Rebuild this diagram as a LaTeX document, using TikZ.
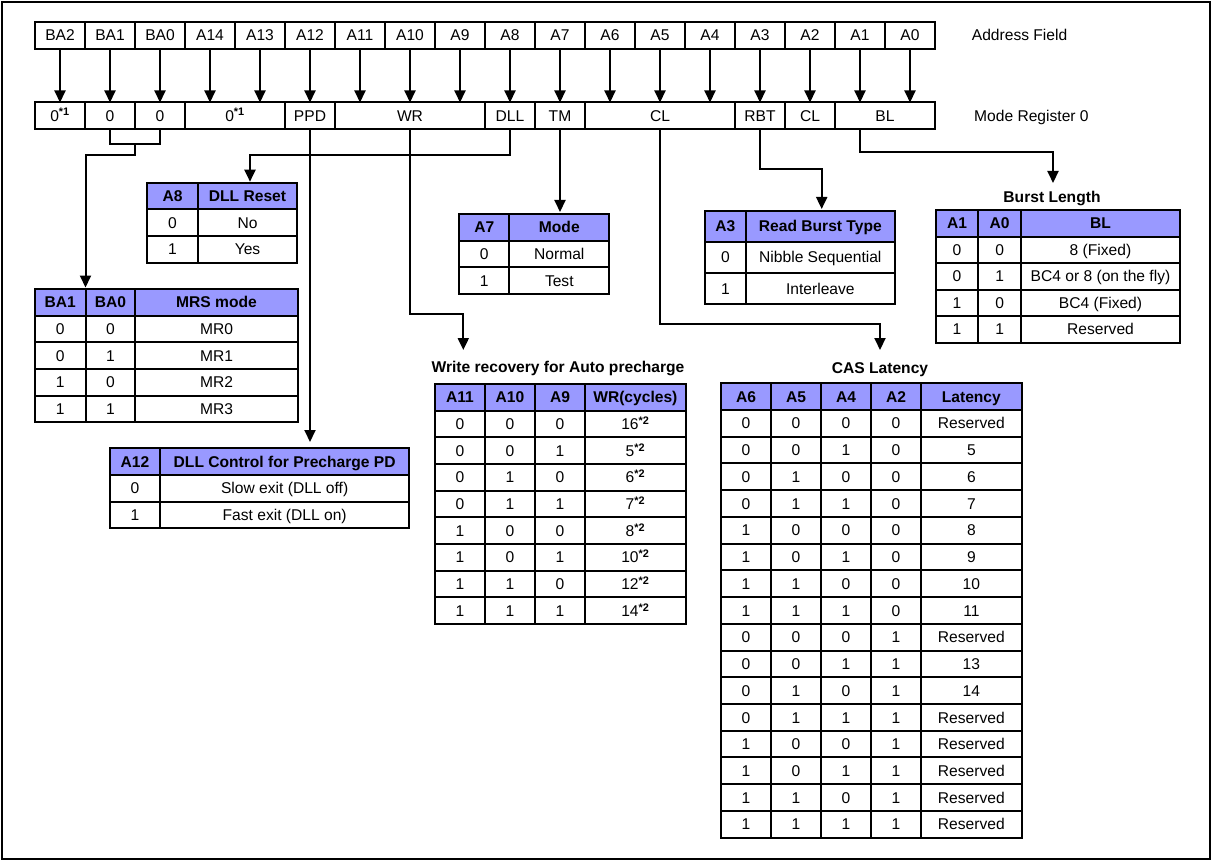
\documentclass[tikz,border=0pt]{standalone}
\usepackage{fontspec}
\setmainfont{Liberation Sans}
\usetikzlibrary{arrows.meta}
\definecolor{hdr}{RGB}{153,153,255}
\tikzset{
  cell/.style={draw=black,line width=2pt,inner sep=0pt,outer sep=0pt,
    font=\fontsize{15.6}{18}\selectfont,text height=11.2pt,text depth=0pt},
  hcell/.style={cell,fill=hdr,font=\fontsize{15.6}{18}\selectfont\bfseries},
  wire/.style={line width=2pt},
  arr/.style={wire,-{Triangle[length=12pt,width=11pt]}},
  lab/.style={inner sep=0pt,font=\fontsize{15.6}{18}\selectfont,text height=11.2pt,text depth=0pt},
  ttl/.style={lab,font=\fontsize{15.6}{18}\selectfont\bfseries}
}
\newcommand\cellbox[7][cell]{%
  \pgfmathsetmacro\cw{(#4)-(#3)}%
  \pgfmathsetmacro\ch{(#6)-(#5)}%
  \node[#1,minimum width=\cw pt,minimum height=\ch pt] (#2) at ({((#3)+(#4))/2},{((#5)+(#6))/2}) {#7};}
\newcommand\stA{\textsuperscript{\textbf{*1}}}
\newcommand\stB{\textsuperscript{\textbf{*2}}}
\begin{document}
\begin{tikzpicture}[x=1pt,y=-1pt]
\useasboundingbox (0,0) rectangle (1212,861);
\draw[line width=2pt] (2,2) rectangle (1210,859);

% Address field
\foreach \t [count=\i from 0] in {BA2,BA1,BA0,A14,A13,A12,A11,A10,A9,A8,A7,A6,A5,A4,A3,A2,A1,A0}{
  \cellbox{a\i}{35+50*\i}{85+50*\i}{22}{48.7}{\t}}
\node[lab,anchor=west] (afl) at (971.7,35.4) {Address Field};

% Mode register 0
\cellbox{m0}{35}{85}{102.5}{128.7}{0\stA}
\cellbox{m1}{85}{135}{102.5}{128.7}{0}
\cellbox{m2}{135}{185}{102.5}{128.7}{0}
\cellbox{m3}{185}{285}{102.5}{128.7}{0\stA}
\cellbox{mPPD}{285}{335}{102.5}{128.7}{PPD}
\cellbox{mWR}{335}{485}{102.5}{128.7}{WR}
\cellbox{mDLL}{485}{535}{102.5}{128.7}{DLL}
\cellbox{mTM}{535}{585}{102.5}{128.7}{TM}
\cellbox{mCLa}{585}{735}{102.5}{128.7}{CL}
\cellbox{mRBT}{735}{785}{102.5}{128.7}{RBT}
\cellbox{mCLb}{785}{835}{102.5}{128.7}{CL}
\cellbox{mBL}{835}{935}{102.5}{128.7}{BL}
\node[lab,anchor=west] (mrl) at (974,115.6) {Mode Register 0};

\foreach \i in {0,...,17}{\draw[arr] (a\i.south) -- (a\i.south |- m0.north);}

% DLL reset table
\cellbox[hcell]{dll-0-1}{147.3}{197.7}{182.7}{209.3}{A8}
\cellbox[hcell]{dll-0-2}{197.7}{297.3}{182.7}{209.3}{DLL Reset}
\foreach \ca/\cb [count=\i] in {0/No,1/Yes}{
  \pgfmathsetmacro\ya{209.3+26.67*(\i-1)}\pgfmathsetmacro\yb{\ya+26.67}
  \cellbox{dll-\i-1}{147.3}{197.7}{\ya}{\yb}{\ca}
  \cellbox{dll-\i-2}{197.7}{297.3}{\ya}{\yb}{\cb}}

% MRS mode table
\cellbox[hcell]{mrs-0-1}{35}{85.5}{289}{315.7}{BA1}
\cellbox[hcell]{mrs-0-2}{85.5}{135.3}{289}{315.7}{BA0}
\cellbox[hcell]{mrs-0-3}{135.3}{297.7}{289}{315.7}{MRS mode}
\foreach \ca/\cb/\cc [count=\i] in {0/0/MR0,0/1/MR1,1/0/MR2,1/1/MR3}{
  \pgfmathsetmacro\ya{315.7+26.67*(\i-1)}\pgfmathsetmacro\yb{\ya+26.67}
  \cellbox{mrs-\i-1}{35}{85.5}{\ya}{\yb}{\ca}
  \cellbox{mrs-\i-2}{85.5}{135.3}{\ya}{\yb}{\cb}
  \cellbox{mrs-\i-3}{135.3}{297.7}{\ya}{\yb}{\cc}}

% DLL control for precharge PD table
\cellbox[hcell]{ppd-0-1}{110}{160}{448.3}{475}{A12}
\cellbox[hcell]{ppd-0-2}{160}{409.3}{448.3}{475}{DLL Control for Precharge PD}
\foreach \ca/\cb [count=\i] in {0/Slow exit (DLL off),1/Fast exit (DLL on)}{
  \pgfmathsetmacro\ya{475+26.67*(\i-1)}\pgfmathsetmacro\yb{\ya+26.67}
  \cellbox{ppd-\i-1}{110}{160}{\ya}{\yb}{\ca}
  \cellbox{ppd-\i-2}{160}{409.3}{\ya}{\yb}{\cb}}

% Test mode table
\cellbox[hcell]{tm-0-1}{459.3}{509.3}{214}{240.7}{A7}
\cellbox[hcell]{tm-0-2}{509.3}{609.3}{214}{240.7}{Mode}
\foreach \ca/\cb [count=\i] in {0/Normal,1/Test}{
  \pgfmathsetmacro\ya{240.7+26.67*(\i-1)}\pgfmathsetmacro\yb{\ya+26.67}
  \cellbox{tm-\i-1}{459.3}{509.3}{\ya}{\yb}{\ca}
  \cellbox{tm-\i-2}{509.3}{609.3}{\ya}{\yb}{\cb}}

% Read burst type table
\cellbox[hcell]{rbt-0-1}{705}{745.7}{211}{241.7}{A3}
\cellbox[hcell]{rbt-0-2}{745.7}{895}{211}{241.7}{Read Burst Type}
\foreach \ca/\cb [count=\i] in {0/Nibble Sequential,1/Interleave}{
  \pgfmathsetmacro\ya{241.7+31.15*(\i-1)}\pgfmathsetmacro\yb{\ya+31.15}
  \cellbox{rbt-\i-1}{705}{745.7}{\ya}{\yb}{\ca}
  \cellbox{rbt-\i-2}{745.7}{895}{\ya}{\yb}{\cb}}

% Burst length table
\node[ttl] (bltitle) at (1052,196.7) {Burst Length};
\cellbox[hcell]{bl-0-1}{935.7}{978.3}{210}{236.5}{A1}
\cellbox[hcell]{bl-0-2}{978.3}{1021}{210}{236.5}{A0}
\cellbox[hcell]{bl-0-3}{1021}{1180}{210}{236.5}{BL}
\foreach \ca/\cb/\cc [count=\i] in {0/0/8 (Fixed),0/1/BC4 or 8 (on the fly),1/0/BC4 (Fixed),1/1/Reserved}{
  \pgfmathsetmacro\ya{236.5+26.5*(\i-1)}\pgfmathsetmacro\yb{\ya+26.5}
  \cellbox{bl-\i-1}{935.7}{978.3}{\ya}{\yb}{\ca}
  \cellbox{bl-\i-2}{978.3}{1021}{\ya}{\yb}{\cb}
  \cellbox{bl-\i-3}{1021}{1180}{\ya}{\yb}{\cc}}

% Write recovery table
\node[ttl] (wrtitle) at (558,367.3) {Write recovery for Auto precharge};
\cellbox[hcell]{wr-0-1}{435}{485}{384}{410.7}{A11}
\cellbox[hcell]{wr-0-2}{485}{535}{384}{410.7}{A10}
\cellbox[hcell]{wr-0-3}{535}{585}{384}{410.7}{A9}
\cellbox[hcell]{wr-0-4}{585}{685.7}{384}{410.7}{WR(cycles)}
\foreach \ca/\cb/\cc/\cd [count=\i] in {0/0/0/16\stB,0/0/1/5\stB,0/1/0/6\stB,0/1/1/7\stB,1/0/0/8\stB,1/0/1/10\stB,1/1/0/12\stB,1/1/1/14\stB}{
  \pgfmathsetmacro\ya{410.7+26.67*(\i-1)}\pgfmathsetmacro\yb{\ya+26.67}
  \cellbox{wr-\i-1}{435}{485}{\ya}{\yb}{\ca}
  \cellbox{wr-\i-2}{485}{535}{\ya}{\yb}{\cb}
  \cellbox{wr-\i-3}{535}{585}{\ya}{\yb}{\cc}
  \cellbox{wr-\i-4}{585}{685.7}{\ya}{\yb}{\cd}}

% CAS latency table
\node[ttl] (castitle) at (880,368.3) {CAS Latency};
\cellbox[hcell]{cas-0-1}{721}{771}{383.3}{410}{A6}
\cellbox[hcell]{cas-0-2}{771}{821}{383.3}{410}{A5}
\cellbox[hcell]{cas-0-3}{821}{871}{383.3}{410}{A4}
\cellbox[hcell]{cas-0-4}{871}{921}{383.3}{410}{A2}
\cellbox[hcell]{cas-0-5}{921}{1021.7}{383.3}{410}{Latency}
\foreach \ca/\cb/\cc/\cd/\ce [count=\i] in {0/0/0/0/Reserved,0/0/1/0/5,0/1/0/0/6,0/1/1/0/7,1/0/0/0/8,1/0/1/0/9,1/1/0/0/10,1/1/1/0/11,0/0/0/1/Reserved,0/0/1/1/13,0/1/0/1/14,0/1/1/1/Reserved,1/0/0/1/Reserved,1/0/1/1/Reserved,1/1/0/1/Reserved,1/1/1/1/Reserved}{
  \pgfmathsetmacro\ya{410+26.73*(\i-1)}\pgfmathsetmacro\yb{\ya+26.73}
  \cellbox{cas-\i-1}{721}{771}{\ya}{\yb}{\ca}
  \cellbox{cas-\i-2}{771}{821}{\ya}{\yb}{\cb}
  \cellbox{cas-\i-3}{821}{871}{\ya}{\yb}{\cc}
  \cellbox{cas-\i-4}{871}{921}{\ya}{\yb}{\cd}
  \cellbox{cas-\i-5}{921}{1021.7}{\ya}{\yb}{\ce}}

% Connectors
\coordinate (jBA) at (135,144);
\coordinate (kBA) at (85.5,155.3);
\draw[wire] (m1.south) |- (jBA) -| (m2.south);
\draw[arr,shorten >=1.5pt] (jBA) |- (kBA) -- (kBA |- mrs-0-1.north);

\coordinate (kDLL) at (250,155);
\draw[arr,shorten >=1pt] (mDLL.south) |- (kDLL) -- (kDLL |- dll-0-2.north);

\draw[arr,shorten >=2pt] (mTM.south) -- (mTM.south |- tm-0-2.north);

\coordinate (kWR) at (463.3,314.3);
\coordinate (wrin) at (463.3,350);
\draw[arr] (mWR.south) |- (kWR) -- (wrin);

\coordinate (ppdin) at (310,442);
\draw[arr] (mPPD.south) -- (ppdin);

\coordinate (kCL) at (880,324);
\coordinate (casin) at (880,350);
\draw[arr] (mCLa.south) |- (kCL) -- (casin);

\coordinate (kRBT) at (821.7,169);
\draw[arr,shorten >=2pt] (mRBT.south) |- (kRBT) -- (kRBT |- rbt-0-2.north);

\coordinate (kBL) at (1053,151.7);
\coordinate (blin) at (1053,183);
\draw[arr] (mBL.south -| a16.south) |- (kBL) -- (blin);
\end{tikzpicture}
\end{document}
